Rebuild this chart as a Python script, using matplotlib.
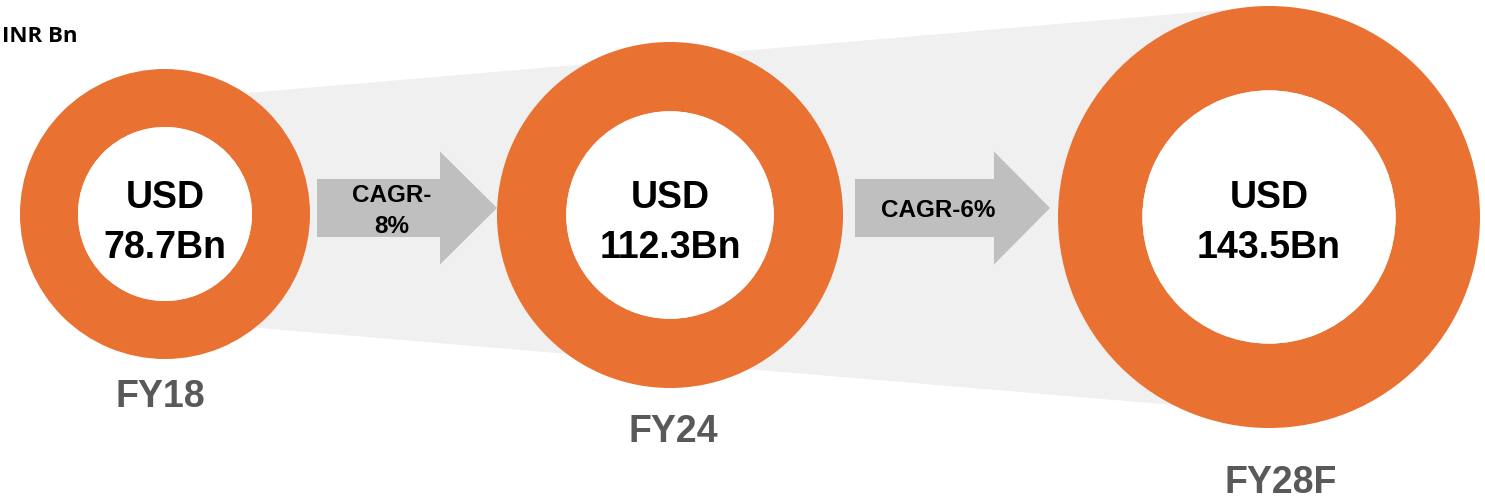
import matplotlib.pyplot as plt
from matplotlib.patches import Wedge, Polygon

years = ['FY18', 'FY24', 'FY28F']
values = [78.7, 112.3, 143.5]
cagr_labels = ['CAGR-\n8%', 'CAGR-6%']
unit_label = 'INR Bn'

# layout in pixel units (y grows downward)
centers = [(165, 214), (670, 215), (1269, 217)]
radii = [145, 173, 211]
year_pos = [(160, 407), (673, 442), (1281, 493)]
# arrow: body x0, body x1, tip x, body half height, head half height, centre y
arrows = [(317, 440, 497, 29, 56.5, 208), (855, 994, 1050, 29, 56.5, 208)]
cagr_pos = [(392, 202), (938, 217)]

orange = '#E97132'
arrow_grey = '#BFBFBF'
band_grey = '#F0F0F0'
label_grey = '#595959'
font = ['Liberation Sans', 'DejaVu Sans']

fig = plt.figure(figsize=(14.85, 4.98), dpi=100, facecolor='white')
ax = fig.add_axes([0, 0, 1, 1])
ax.set_xlim(0, 1485)
ax.set_ylim(498, 0)
ax.set_aspect('equal')
ax.axis('off')

# light grey band behind the circles
band = Polygon([(165, 100), (1269, 6), (1269, 413), (165, 320)],
               closed=True, facecolor=band_grey, edgecolor='none', zorder=0)
ax.add_patch(band)

for (x0, x1, tip, bh, hh, cy) in arrows:
    pts = [(x0, cy - bh), (x1, cy - bh), (x1, cy - hh), (tip, cy),
           (x1, cy + hh), (x1, cy + bh), (x0, cy + bh)]
    ax.add_patch(Polygon(pts, closed=True, facecolor=arrow_grey,
                         edgecolor='none', zorder=1))

for (cx, cy), r, val, yr, (yx, yy) in zip(centers, radii, values, years, year_pos):
    ax.add_patch(Wedge((cx, cy), r, 0, 360, width=0.4 * r,
                       facecolor=orange, edgecolor='none', zorder=2))
    ax.add_patch(Wedge((cx, cy), 0.6 * r, 0, 360,
                       facecolor='white', edgecolor='none', zorder=2))
    ax.text(cx, 208, 'USD', ha='center', va='baseline', fontsize=27,
            fontweight='bold', family=font, color='black', zorder=3)
    ax.text(cx, 258, f'{val}Bn', ha='center', va='baseline', fontsize=27,
            fontweight='bold', family=font, color='black', zorder=3)
    ax.text(yx, yy, yr, ha='center', va='baseline', fontsize=27,
            fontweight='bold', family=font, color=label_grey, zorder=3)

# CAGR labels on arrows
first, second = cagr_labels[0].split('\n')
ax.text(cagr_pos[0][0], cagr_pos[0][1], first, ha='center', va='baseline',
        fontsize=17.5, fontweight='bold', family=font, zorder=3)
ax.text(cagr_pos[0][0], cagr_pos[0][1] + 31, second, ha='center', va='baseline',
        fontsize=17.5, fontweight='bold', family=font, zorder=3)
ax.text(cagr_pos[1][0], cagr_pos[1][1], cagr_labels[1], ha='center', va='baseline',
        fontsize=17.5, fontweight='bold', family=font, zorder=3)

ax.text(2, 41.5, unit_label, ha='left', va='baseline', fontsize=16,
        fontweight='bold', family=['Open Sans', 'DejaVu Sans'], zorder=3)

fig.savefig('out.png', dpi=100, facecolor='white')
